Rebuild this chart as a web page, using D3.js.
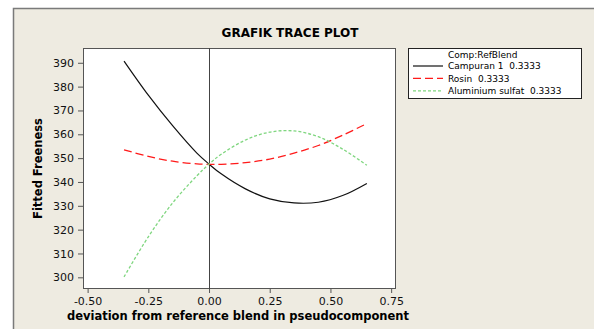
<!DOCTYPE html>
<html>
<head>
<meta charset="utf-8">
<script src="https://cdn.jsdelivr.net/npm/d3@7"></script>
<style>
  html, body { margin: 0; padding: 0; background: #fff; }
  svg { display: block; font-family: 'DejaVu Sans', Verdana, sans-serif; }
  text { white-space: pre; }
</style>
</head>
<body>
<svg width="594" height="329"></svg>
<script>
'use strict'

// deviation from reference blend
const deviation = [-0.35, -0.25, -0.15, -0.05, 0, 0.05, 0.15, 0.25, 0.35, 0.45, 0.55, 0.65]
const campuran = [390.7, 376.4, 363.6, 352.1, 347.5, 343.4, 337.1, 332.9, 331.2, 331.5, 334.3, 339.4]
const rosin = [353.5, 350.7, 348.7, 347.6, 347.4, 347.4, 348.1, 349.6, 352.1, 355.3, 359.6, 364.5]
const aluminium = [300.2, 317.0, 331.2, 342.6, 347.5, 351.6, 357.6, 360.9, 361.4, 359.0, 353.8, 347.0]

const seriesNames = ['Campuran 1  0.3333', 'Rosin  0.3333', 'Aluminium sulfat  0.3333']
const legendTitle = 'Comp:RefBlend'
const xTicks = [-0.5, -0.25, 0, 0.25, 0.5, 0.75]
const yTicks = [300, 310, 320, 330, 340, 350, 360, 370, 380, 390]

const svg = d3.select('body svg')

const plot = { left: 83, right: 396, top: 48, bottom: 289 }

svg.append('rect')
  .attr('x', 13.5).attr('y', 8.5)
  .attr('width', 620).attr('height', 340)
  .style('fill', '#eeebe1')
  .style('stroke', '#7a7a7a')
  .style('stroke-width', '1.5')

const xScale = d3.scaleLinear().domain([-0.519, 0.77]).range([plot.left, plot.right])
const yScale = d3.scaleLinear().domain([295.1, 396.2]).range([plot.bottom, plot.top])

svg.append('rect')
  .attr('x', plot.left).attr('y', plot.top)
  .attr('width', plot.right - plot.left).attr('height', plot.bottom - plot.top)
  .style('fill', 'white')

const xAxis = d3.axisBottom(xScale)
  .tickValues(xTicks)
  .tickFormat((d) => d.toFixed(2))
  .tickSize(4)
  .tickPadding(4)
  .tickSizeOuter(0)
svg.append('g').attr('transform', `translate(0, ${plot.bottom})`).call(xAxis)

const yAxis = d3.axisLeft(yScale)
  .tickValues(yTicks)
  .tickSize(5)
  .tickPadding(4)
  .tickSizeOuter(0)
svg.append('g').attr('transform', `translate(${plot.left}, 0)`).call(yAxis)

svg.selectAll('g.tick text')
  .style('font-size', '11px')
  .style('fill', '#111')
  .style('font-family', "'DejaVu Sans', Verdana, sans-serif")
svg.selectAll('g.tick line').style('stroke', '#555')
svg.selectAll('path.domain').remove()

svg.append('rect')
  .attr('x', plot.left + 0.5).attr('y', plot.top + 0.5)
  .attr('width', plot.right - plot.left - 1).attr('height', plot.bottom - plot.top - 1)
  .style('fill', 'none')
  .style('stroke', '#555')

// reference line at zero deviation
svg.append('line')
  .attr('x1', Math.round(xScale(0)) + 0.5).attr('x2', Math.round(xScale(0)) + 0.5)
  .attr('y1', plot.top).attr('y2', plot.bottom)
  .style('stroke', '#444')

const styles = [
  { color: '#111', dash: null, width: 1.2 },
  { color: '#ff1a1a', dash: '8,4', width: 1.3 },
  { color: '#7fd67f', dash: '3,2', width: 1.3 }
]

const line = d3.line()
  .x((d) => xScale(d.x))
  .y((d) => yScale(d.y))
  .curve(d3.curveCatmullRom)

const series = [campuran, rosin, aluminium].map((vals) => vals.map((v, i) => ({ x: deviation[i], y: v })))

series.forEach((pts, i) => {
  svg.append('path')
    .datum(pts)
    .attr('d', line)
    .style('fill', 'none')
    .style('stroke', styles[i].color)
    .style('stroke-width', styles[i].width)
    .style('stroke-dasharray', styles[i].dash)
})

svg.append('text')
  .attr('x', 290).attr('y', 36.5)
  .attr('text-anchor', 'middle')
  .style('font-size', '12px').style('font-weight', 'bold')
  .text('GRAFIK TRACE PLOT')

svg.append('text')
  .attr('x', 238).attr('y', 320)
  .attr('text-anchor', 'middle')
  .style('font-size', '11.5px').style('font-weight', 'bold')
  .text('deviation from reference blend in pseudocomponent')

svg.append('text')
  .attr('transform', `translate(42, ${(plot.top + plot.bottom) / 2}) rotate(-90)`)
  .attr('text-anchor', 'middle')
  .style('font-size', '11.5px').style('font-weight', 'bold')
  .text('Fitted Freeness')

// legend
const legend = svg.append('g').attr('transform', 'translate(408, 48)')
legend.append('rect')
  .attr('x', 0.5).attr('y', 0.5)
  .attr('width', 173).attr('height', 50)
  .style('fill', 'white')
  .style('stroke', '#222')
legend.append('text')
  .attr('x', 40).attr('y', 9.5)
  .style('font-size', '9px')
  .text(legendTitle)
seriesNames.forEach((name, i) => {
  const y = 18 + i * 12.4
  legend.append('line')
    .attr('x1', 5).attr('x2', 35)
    .attr('y1', y).attr('y2', y)
    .style('stroke', styles[i].color)
    .style('stroke-width', styles[i].width)
    .style('stroke-dasharray', styles[i].dash)
  legend.append('text')
    .attr('x', 40).attr('y', y + 3.3)
    .style('font-size', '9px')
    .text(name)
})
</script>
</body>
</html>
